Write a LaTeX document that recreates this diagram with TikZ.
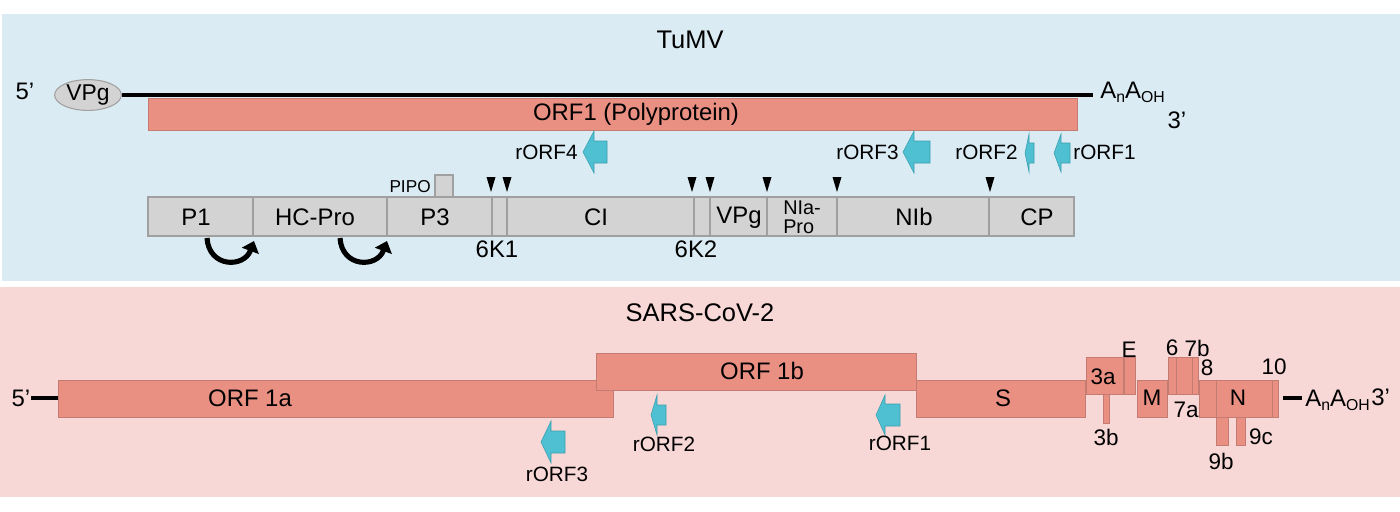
\documentclass[tikz,border=0pt]{standalone}
\usepackage{fontspec}
\setmainfont{Liberation Sans}
\usetikzlibrary{arrows.meta,shapes.geometric}
\definecolor{bgblue}{HTML}{DAEBF3}
\definecolor{bgpink}{HTML}{F7D8D6}
\definecolor{salmon}{HTML}{E99083}
\definecolor{salmonedge}{HTML}{C47C72}
\definecolor{gfill}{HTML}{D3D3D3}
\definecolor{gedge}{HTML}{A0A0A0}
\definecolor{cyanar}{HTML}{4EC0D1}
\definecolor{cyanedge}{HTML}{3A9FAF}
% tip x, centre y, head-back x, right x, head half-height, body half-height
\newcommand\rorfarrow[6]{\filldraw[rorf] (#1,#2) -- (#3,#2-#5) -- (#3,#2-#6) -- (#4,#2-#6) -- (#4,#2+#6) -- (#3,#2+#6) -- (#3,#2+#5) -- cycle;}
\newcommand\cleavmark[1]{\fill[black] (#1-4.5,177) -- (#1+4.5,177) -- (#1,192) -- cycle;}
\newcommand\polyAtail{A\raisebox{-0.35ex}{\fontsize{9}{10}\selectfont n}A\raisebox{-0.35ex}{\fontsize{9}{10}\selectfont OH}}
\begin{document}
\begin{tikzpicture}[x=0.02cm,y=-0.02cm,
  lbl/.style={inner sep=0pt, font=\fontsize{13.6}{15}\selectfont},
  slbl/.style={inner sep=0pt, font=\fontsize{12.8}{14}\selectfont},
  rlbl/.style={inner sep=0pt, font=\fontsize{11.8}{13}\selectfont},
  ttl/.style={inner sep=0pt, font=\fontsize{14.5}{16}\selectfont},
  orfbox/.style={fill=salmon, draw=salmonedge, line width=0.5pt},
  genebox/.style={fill=gfill, draw=gedge, line width=0.6pt},
  rorf/.style={fill=cyanar, draw=cyanedge, line width=0.3pt},
  turn/.style={line width=2.9pt, -{Triangle[width=10pt,length=6pt]}},
  rna/.style={line width=2pt},
]
\useasboundingbox (0,0) rectangle (1400,511);
\fill[bgblue] (2,14) rectangle (1400,281);
\fill[bgpink] (0,287) rectangle (1400,497);

% ================= TuMV =================
\node[ttl] (tumv) at (690,40) {TuMV};
\node[lbl] (p5a) at (25,91) {5’};
\node[ellipse, fill=gfill, draw=gedge, line width=0.6pt, minimum width=38pt, minimum height=17.5pt, inner sep=0pt, font=\fontsize{13}{14}\selectfont] (vpgcap) at (88,95) {VPg};
\coordinate (rnaend) at (1093,95);
\draw[rna] (vpgcap.east) -- (rnaend);
\node[lbl, anchor=base west] (polyA1) at (1100,98) {\polyAtail};
\node[lbl] (p3a) at (1177,120) {3’};

\filldraw[orfbox] (148,98) rectangle (1077,130);
\node[lbl] (orf1) at (636,114) {ORF1 (Polyprotein)};

\rorfarrow{583}{152}{594}{607}{21}{11}
\node[rlbl, anchor=east] (r4) at (578,152) {rORF4};
\rorfarrow{903}{152}{914}{930}{21}{11}
\node[rlbl, anchor=east] (r3) at (899,152) {rORF3};
\rorfarrow{1025}{153}{1029}{1034}{19}{10}
\node[rlbl, anchor=east] (r2) at (1018,152) {rORF2};
\rorfarrow{1054}{153}{1061}{1070}{19}{10}
\node[rlbl, anchor=west] (r1) at (1073,152) {rORF1};

% PIPO
\filldraw[genebox] (435,175) rectangle (453,197);
\node[inner sep=0pt, font=\fontsize{9.8}{11}\selectfont, anchor=east] (pipo) at (431,187) {PIPO};

% cleavage sites
\cleavmark{491}\cleavmark{507}\cleavmark{692}\cleavmark{710}
\cleavmark{767}\cleavmark{837}\cleavmark{990}

% polyprotein
\filldraw[genebox] (148,197) rectangle (1074,236);
\foreach \xx in {253,387,492,507,694,710,767,837,989}
  \draw[gedge, line width=0.6pt] (\xx,197) -- (\xx,236);
\node[lbl] (gP1) at (196,217) {P1};
\node[lbl] (gHC) at (315,217) {HC-Pro};
\node[lbl] (gP3) at (435,217) {P3};
\node[lbl] (gCI) at (596,217) {CI};
\node[lbl] (gVPg) at (739,218) {VPg};
\node[inner sep=0pt, align=left, font=\fontsize{11.3}{10.8}\selectfont] (gNIa) at (802,217) {NIa-\\Pro};
\node[lbl] (gNIb) at (914,217) {NIb};
\node[lbl] (gCP) at (1037,217) {CP};
\node[lbl] (g6K1) at (497,249) {6K1};
\node[lbl] (g6K2) at (696,249) {6K2};

% autocatalytic cleavage arrows
\coordinate (t1s) at (207,238);
\coordinate (t1e) at (254,241);
\draw[turn] (t1s) .. controls (209,268) and (244,268) .. (t1e);
\coordinate (t2s) at (340,238);
\coordinate (t2e) at (387,241);
\draw[turn] (t2s) .. controls (342,268) and (377,268) .. (t2e);

% ================= SARS-CoV-2 =================
\node[ttl] (sars) at (700,313) {SARS-CoV-2};
\node[lbl] (s5) at (21,398) {5’};
\coordinate (s5e) at (58,398);
\draw[rna] (31,398) -- (s5e);

\filldraw[orfbox] (58,380) rectangle (613,417);
\filldraw[orfbox] (596,353) rectangle (916,390);
\node[lbl] (o1a) at (250,398) {ORF 1a};
\node[lbl] (o1b) at (762,371) {ORF 1b};

\rorfarrow{541}{442}{551}{565}{21}{11}
\node[rlbl] (sr3) at (557,474) {rORF3};
\rorfarrow{651}{415}{657}{666}{20}{10}
\node[rlbl] (sr2) at (664,444) {rORF2};
\rorfarrow{876}{415}{885}{900}{20}{11}
\node[rlbl] (sr1) at (900,443) {rORF1};

\filldraw[orfbox] (916,380) rectangle (1085,417);
\node[lbl] (gS) at (1003,398) {S};
\filldraw[orfbox] (1086,357) rectangle (1123,394);
\filldraw[orfbox] (1103,394) rectangle (1109,423);
\filldraw[orfbox] (1124,357) rectangle (1135,394);
\filldraw[orfbox] (1137,380) rectangle (1167,417);
\filldraw[orfbox] (1168,357) rectangle (1176,394);
\filldraw[orfbox] (1176,357) rectangle (1192,394);
\filldraw[orfbox] (1192,357) rectangle (1198,394);
\filldraw[orfbox] (1199,380) rectangle (1216,417);
\filldraw[orfbox] (1216,380) rectangle (1272,417);
\filldraw[orfbox] (1272,380) rectangle (1278,417);
\filldraw[orfbox] (1216,417) rectangle (1228,445);
\filldraw[orfbox] (1236,417) rectangle (1245,445);

\node[slbl] (g3a) at (1103,377) {3a};
\node[slbl] (g3b) at (1106,437) {3b};
\node[slbl] (gE) at (1129,350) {E};
\node[slbl] (gM) at (1152,398) {M};
\node[slbl] (g6) at (1172,348) {6};
\node[slbl] (g7b) at (1197,348) {7b};
\node[slbl] (g7a) at (1186,410) {7a};
\node[slbl] (g8) at (1207,368) {8};
\node[slbl] (gN) at (1238,398) {N};
\node[slbl] (g10) at (1274,367) {10};
\node[slbl] (g9b) at (1221,461) {9b};
\node[slbl] (g9c) at (1261,437) {9c};

\coordinate (s3s) at (1283,398);
\coordinate (s3e) at (1302,398);
\draw[rna] (s3s) -- (s3e);
\node[lbl, anchor=base west] (polyA2) at (1305,406) {\polyAtail};
\node[lbl, anchor=west] (s3) at (1371,397) {3’};
\end{tikzpicture}
\end{document}
